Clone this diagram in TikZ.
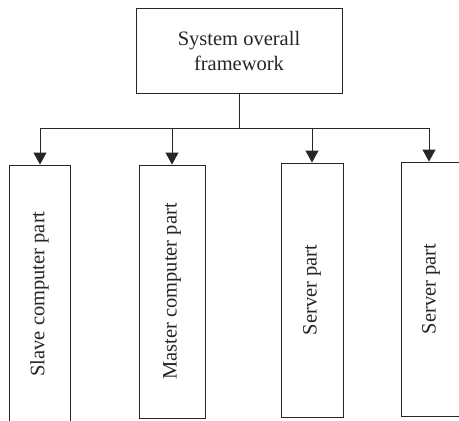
\documentclass[tikz,border=0pt]{standalone}
\usepackage{fontspec}
\setmainfont{Liberation Serif}
\usetikzlibrary{arrows.meta}
\begin{document}
\begin{tikzpicture}[x=1pt,y=-1pt,
  line/.style={draw=black!85,line width=0.9pt},
  box/.style={line,inner sep=0pt,font=\fontsize{20.5}{25}\selectfont,text=black!85},
  arr/.style={line,-{Triangle[length=12pt,width=13pt]}}]
\useasboundingbox (0,0) rectangle (459,421);
\clip (0,0) rectangle (459,421);
\node[box,minimum width=206pt,minimum height=85pt,align=center] (top) at (239,50.5) {System overall\\framework};
\node[box,minimum width=61pt,minimum height=258pt] (b1) at (39.5,294) {\rotatebox{90}{Slave computer part}};
\node[box,minimum width=66pt,minimum height=253pt] (b2) at (172,291.5) {\rotatebox{90}{Master computer part}};
\node[box,minimum width=62pt,minimum height=254pt] (b3) at (312,290) {\rotatebox{90}{Server part}};
\node[box,minimum width=60pt,minimum height=254pt] (b4) at (431,289) {\rotatebox{90}{Server part}};
\coordinate (j) at (239,128);
\coordinate (a1) at (40,128);
\coordinate (a4) at (429,128);
\draw[line] (top.south) -- (j);
\draw[line] (a1) -- (a4);
\draw[arr] (a1) -- (a1|-b1.north);
\draw[arr] (b2.north|-j) -- (b2.north);
\draw[arr] (b3.north|-j) -- (b3.north);
\draw[arr] (a4) -- (a4|-b4.north);
\end{tikzpicture}
\end{document}
